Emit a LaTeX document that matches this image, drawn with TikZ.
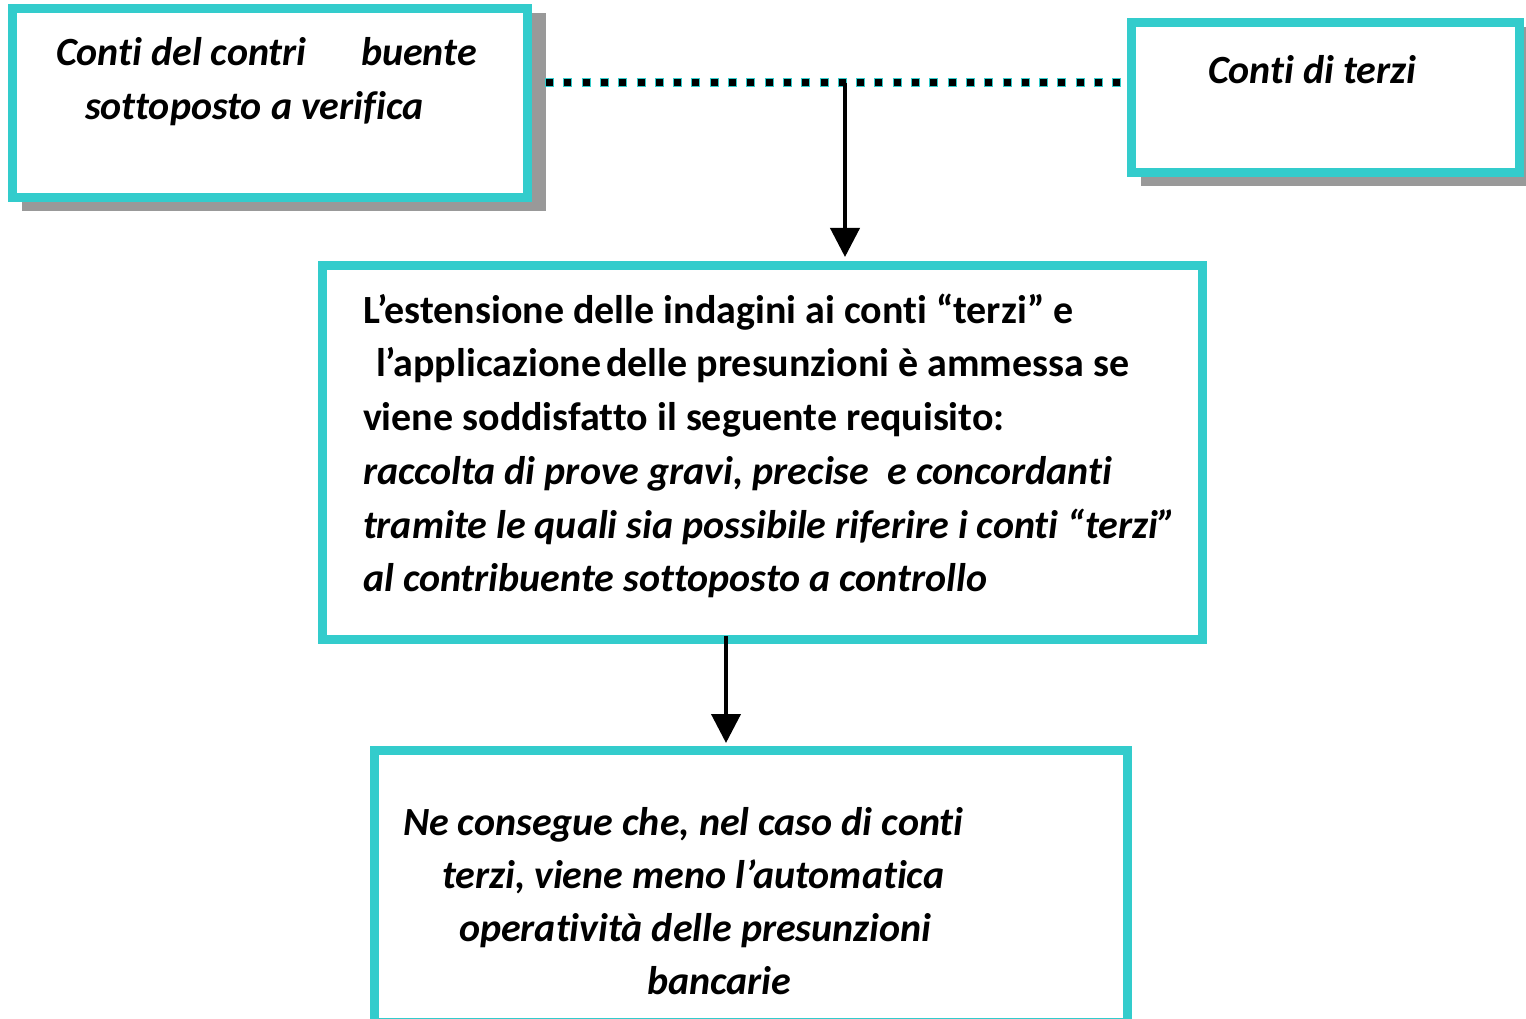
\documentclass[tikz,border=0pt]{standalone}
\usepackage{fontspec}
\setmainfont{Carlito}[Ligatures={NoCommon,NoContextual}]
\usetikzlibrary{arrows.meta,calc,backgrounds}
\definecolor{frame}{RGB}{51,204,204}
\definecolor{shadowgray}{RGB}{153,153,153}
\begin{document}
\begin{tikzpicture}[x=1pt,y=-1pt,
  box/.style={draw=frame,line width=9pt,fill=white,rectangle,inner sep=0pt,outer sep=0pt},
  bi/.style={anchor=base west,inner sep=0pt,outer sep=0pt,font=\bfseries\itshape\fontsize{#1}{#1}\selectfont},
  bi/.default=40,
  bu/.style={anchor=base west,inner sep=0pt,outer sep=0pt,font=\bfseries\fontsize{#1}{#1}\selectfont},
  bu/.default=40,
  link/.style={draw=black,line width=4pt,-{Triangle[width=29pt,length=29pt]}}]
\useasboundingbox (0,0) rectangle (1526,1019);
\clip (0,0) rectangle (1526,1019);

% boxes
\node[box,minimum width=514.5pt,minimum height=189pt] (A) at (269.75,103) {};
\node[box,minimum width=387.7pt,minimum height=149.5pt] (B) at (1325.15,97.75) {};
\node[box,minimum width=879.7pt,minimum height=373.7pt] (C) at (762.65,452.15) {};
\node[box,minimum width=752.8pt,minimum height=272pt] (D) at (750.9,886) {};

% drop shadows of the two upper boxes
\begin{scope}[on background layer]
  \fill[shadowgray] ($(A.north west)+(9.5,4.5)$) rectangle ($(A.south east)+(18.5,13.5)$);
  \fill[shadowgray] ($(B.north west)+(9.5,4.5)$) rectangle ($(B.south east)+(18.5,13.5)$);
\end{scope}

% texts
\node[bi] (a1) at (56,66) {Conti del contri};
\node[bi] (a2) at (361,66) {buente};
\node[bi] (a3) at (85,120) {sottoposto a verifica};

\node[bi] (b1) at (1208,84) {Conti di terzi};

\node[bu] (c1) at (363,323) {L’estensione delle indagini ai conti “terzi” e};
\node[bu] (c2) at (376,376.5) {l’applicazione\hspace{5pt}delle presunzioni è ammessa se};
\node[bu] (c3) at (363,430) {viene soddisfatto il seguente requisito:};
\node[bi] (c4) at (363,484) {raccolta di prove gravi, precise\ \ e concordanti};
\node[bi] (c5) at (363,538) {tramite le quali sia possibile riferire i conti “terzi”};
\node[bi] (c6) at (363,591.5) {al contribuente sottoposto a controllo};

\node[bi] (d1) at (403,835) {Ne consegue che, nel caso di conti};
\node[bi] (d2) at (442,888) {terzi, viene meno l’automatica};
\node[bi] (d3) at (459,941) {operatività delle presunzioni};
\node[bi] (d4) at (647,994) {bancarie};

% connectors
\coordinate (mid) at (845,83);
\coordinate (drop) at (726,0);
\draw[frame,line width=9pt,dash pattern=on 9pt off 9.3pt]
  ($(A.east |- mid)+(18,0)$) -- ($(B.west |- mid)+(-4.5,0)$);
\draw[black,line width=7pt,dash pattern=on 0pt off 1pt on 7pt off 10.3pt]
  ($(A.east |- mid)+(18,0)$) -- ($(B.west |- mid)+(-4.5,0)$);
\draw[link] (mid) -- ($(C.north -| mid)+(0,-8.3)$);
\draw[link] ($(C.south -| drop)+(0,-3)$) -- ($(D.north -| drop)+(0,-7)$);
\end{tikzpicture}
\end{document}
